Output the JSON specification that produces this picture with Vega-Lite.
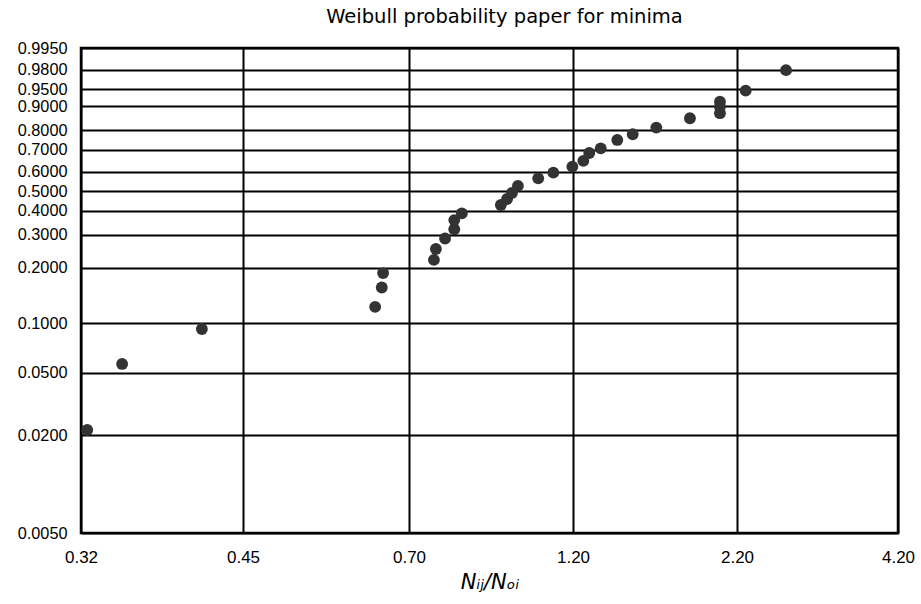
{
  "$schema": "https://vega.github.io/schema/vega-lite/v6.json",
  "width": 817,
  "height": 485,
  "autosize": {"type": "none"},
  "padding": {"left": 81, "top": 48, "right": 23, "bottom": 71},
  "background": "white",
  "title": {
    "text": "Weibull probability paper for minima",
    "fontSize": 19.5,
    "font": "DejaVu Sans",
    "fontWeight": "normal",
    "color": "black",
    "anchor": "middle",
    "dx": 15,
    "offset": 13
  },
  "config": {
    "view": {"stroke": "black", "strokeWidth": 2.5},
    "axis": {
      "domain": false,
      "ticks": false,
      "grid": true,
      "gridColor": "black",
      "gridWidth": 2,
      "gridOpacity": 1,
      "labelFont": "Liberation Sans",
      "labelFontSize": 17,
      "labelColor": "black",
      "labelPadding": 14,
      "labelOverlap": false,
      "labelFlush": false,
      "labelBound": false
    }
  },
  "data": {
    "values": [
      {"ratio": 0.325, "p": 0.0224},
      {"ratio": 0.353, "p": 0.0588},
      {"ratio": 0.417, "p": 0.094},
      {"ratio": 0.649, "p": 0.129},
      {"ratio": 0.659, "p": 0.164},
      {"ratio": 0.661, "p": 0.19},
      {"ratio": 0.776, "p": 0.223},
      {"ratio": 0.782, "p": 0.256},
      {"ratio": 0.81, "p": 0.288},
      {"ratio": 0.838, "p": 0.322},
      {"ratio": 0.838, "p": 0.36},
      {"ratio": 0.861, "p": 0.388},
      {"ratio": 0.98, "p": 0.428},
      {"ratio": 0.999, "p": 0.459},
      {"ratio": 1.014, "p": 0.49},
      {"ratio": 1.032, "p": 0.526},
      {"ratio": 1.094, "p": 0.565},
      {"ratio": 1.14, "p": 0.594},
      {"ratio": 1.198, "p": 0.622},
      {"ratio": 1.263, "p": 0.648},
      {"ratio": 1.299, "p": 0.684},
      {"ratio": 1.369, "p": 0.706},
      {"ratio": 1.47, "p": 0.749},
      {"ratio": 1.564, "p": 0.778},
      {"ratio": 1.708, "p": 0.81},
      {"ratio": 1.913, "p": 0.849},
      {"ratio": 2.096, "p": 0.87},
      {"ratio": 2.096, "p": 0.897},
      {"ratio": 2.096, "p": 0.913},
      {"ratio": 2.308, "p": 0.946},
      {"ratio": 2.809, "p": 0.979}
    ]
  },
  "mark": {"type": "circle", "size": 140, "color": "#333333", "opacity": 1},
  "encoding": {
    "x": {
      "field": "ratio",
      "type": "quantitative",
      "scale": {
        "domain": [0.32, 0.45, 0.7, 1.2, 2.2, 4.2],
        "range": [0, 162, 328, 492, 656, 817],
        "zero": false,
        "nice": false
      },
      "axis": {
        "values": [0.32, 0.45, 0.7, 1.2, 2.2, 4.2],
        "format": ".2f",
        "labelPadding": 16,
        "title": "Nᵢⱼ/Nₒᵢ",
        "titleFont": "DejaVu Sans",
        "titleFontStyle": "italic",
        "titleFontWeight": "normal",
        "titleFontSize": 21,
        "titleColor": "black",
        "titlePadding": 6
      }
    },
    "y": {
      "field": "p",
      "type": "quantitative",
      "scale": {
        "domain": [0.005, 0.02, 0.05, 0.1, 0.2, 0.3, 0.4, 0.5, 0.6, 0.7, 0.8, 0.9, 0.95, 0.98, 0.995],
        "range": [485, 387, 324.7, 275, 219.5, 186.5, 162.5, 143, 123.5, 101.5, 82, 58, 41.3, 21.5, 0],
        "zero": false,
        "nice": false
      },
      "axis": {
        "values": [0.005, 0.02, 0.05, 0.1, 0.2, 0.3, 0.4, 0.5, 0.6, 0.7, 0.8, 0.9, 0.95, 0.98, 0.995],
        "format": ".4f",
        "labelFontSize": 16.3,
        "title": null
      }
    }
  }
}
